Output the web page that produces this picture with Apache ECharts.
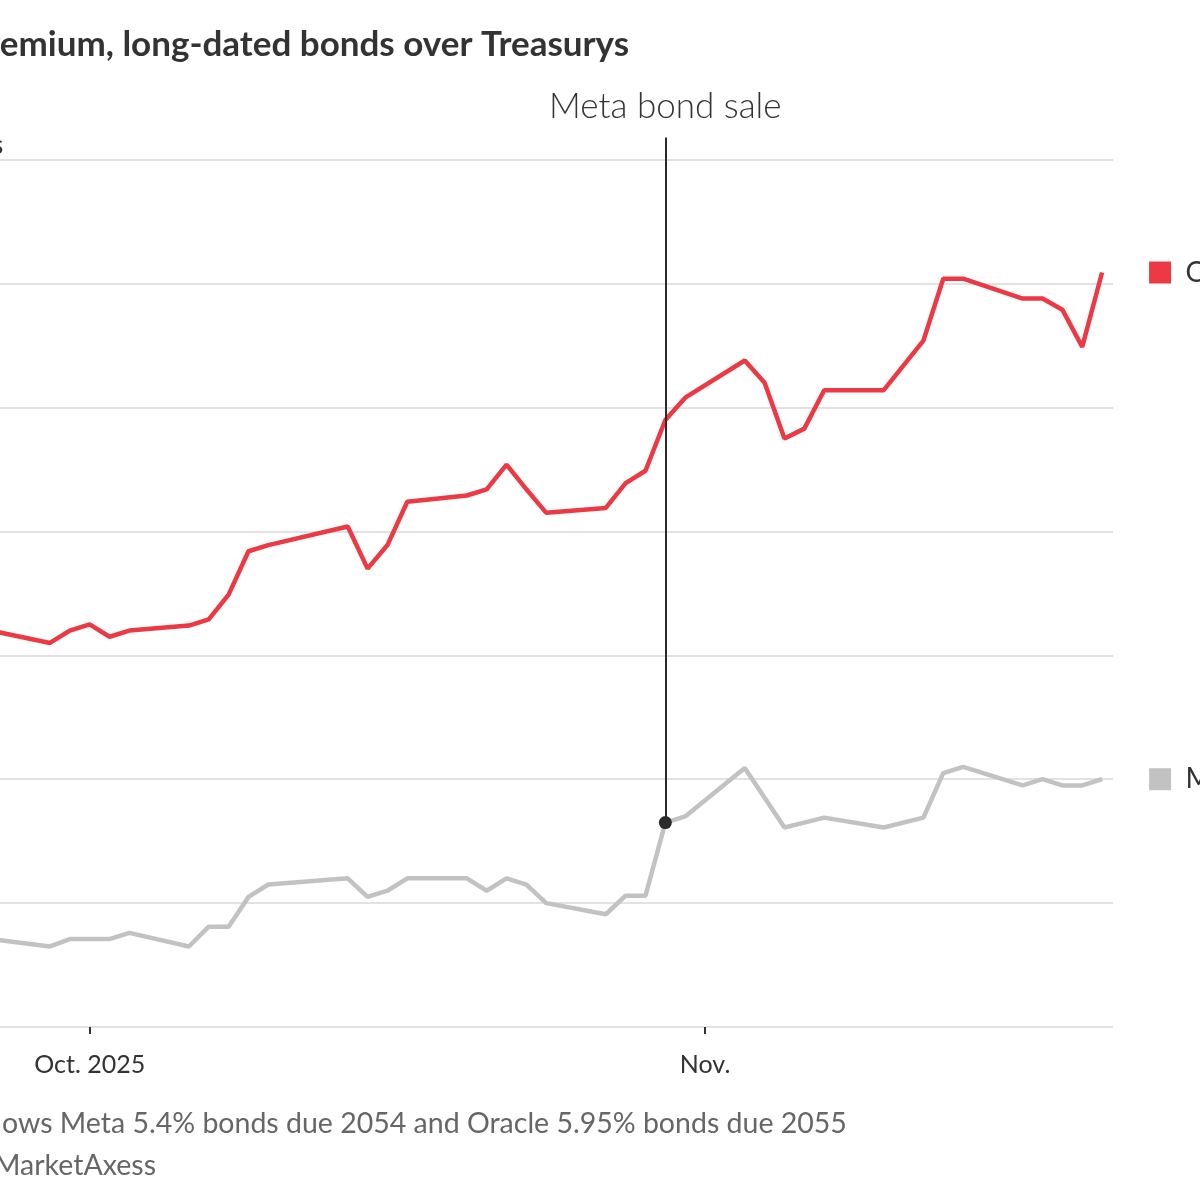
<!DOCTYPE html>
<html><head><meta charset="utf-8">
<script src="https://cdn.jsdelivr.net/npm/echarts@6.0.0/dist/echarts.min.js"></script>
<style>
html,body{margin:0;padding:0;overflow:hidden;background:#fff;width:1200px;height:1200px;}
#chart{position:absolute;left:-150px;top:0;width:1350px;height:1200px;}
</style>
</head><body><div id="chart"></div>
<script>
const dates = ['2025-09-26','2025-09-29','2025-09-30',
  '2025-10-01','2025-10-02','2025-10-03',
  '2025-10-06','2025-10-07','2025-10-08','2025-10-09','2025-10-10',
  '2025-10-14','2025-10-15','2025-10-16','2025-10-17',
  '2025-10-20','2025-10-21','2025-10-22','2025-10-23','2025-10-24',
  '2025-10-27','2025-10-28','2025-10-29','2025-10-30','2025-10-31',
  '2025-11-03','2025-11-04','2025-11-05','2025-11-06','2025-11-07',
  '2025-11-10',
  '2025-11-12','2025-11-13','2025-11-14',
  '2025-11-17','2025-11-18','2025-11-19','2025-11-20','2025-11-21'];
const oracle = [122.0,121.0,122.0,
  122.5,121.5,122.0,
  122.4,122.9,124.9,128.4,128.9,
  130.4,127.0,128.9,132.4,
  132.9,133.4,135.4,133.4,131.5,
  131.9,133.9,134.9,139.0,140.8,
  143.8,142.0,137.5,138.3,141.4,
  141.4,
  145.4,150.4,150.4,
  148.8,148.8,147.9,144.9,150.9];
const meta = [97.1,96.5,97.1,
  97.1,97.1,97.6,
  96.5,98.1,98.1,100.5,101.5,
  102.0,100.5,101.0,102.0,
  102.0,101.0,102.0,101.5,100.0,
  99.1,100.6,100.6,106.5,107.0,
  110.9,108.5,106.1,106.5,106.9,
  106.1,
  106.9,110.5,111.0,
  109.5,110.0,109.5,109.5,110.0];
const tickDates = ['2025-10-01','2025-11-01'];
const tickLabels = ['Oct. 2025','Nov.'];
const yMin = 90, yInterval = 10, yTopTick = 160;
const yUnit = 'bps';
const saleDate = '2025-10-30';
const saleLabel = 'Meta bond sale';
const titleText = 'Yield premium, long-dated bonds over Treasurys';
const noteText = 'Note: Shows Meta 5.4% bonds due 2054 and Oracle 5.95% bonds due 2055';
const sourceText = 'Source: MarketAxess';

function ts(s){ const p = s.split('-').map(Number); return new Date(p[0], p[1]-1, p[2]).getTime(); }
const DAY = 86400000;
const FONT = 'Lato, "Noto Sans", sans-serif';
const RED = '#ec3943', GRAY = '#c2c2c2';

const oracleData = dates.map((d,i)=>[ts(d), oracle[i]]);
const metaData = dates.map((d,i)=>[ts(d), meta[i]]);
const saleIdx = dates.indexOf(saleDate);
const tickVals = tickDates.map(ts);

const chart = echarts.init(document.getElementById('chart'), null, {renderer:'canvas'});
chart.setOption({
  animation: false,
  backgroundColor: '#fff',
  title: [
    {text: titleText, left: 25, top: 22, textStyle:{fontFamily:FONT, fontSize:35, fontWeight:'bold', color:'#333'}},
    {text: noteText, left: 39, top: 1104, textStyle:{fontFamily:FONT, fontSize:28.5, fontWeight:'normal', color:'#666'}},
    {text: sourceText, left: 39, top: 1146, textStyle:{fontFamily:FONT, fontSize:28.5, fontWeight:'normal', color:'#666'}}
  ],
  grid: {left: 61, right: 87, top: 135, bottom: 173, containLabel:false},
  xAxis: {
    type: 'value',
    min: ts('2025-09-22'),
    max: ts('2025-11-21') + 0.55*DAY,
    axisLine: {show:false},
    splitLine: {show:false},
    axisTick: {show:true, customValues: tickVals, length:7, lineStyle:{color:'#333', width:2}},
    axisLabel: {show:true, customValues: tickVals, margin: 25,
      formatter: function(v){ const i = tickVals.indexOf(v); return i>=0 ? tickLabels[i] : ''; },
      fontFamily: FONT, fontSize: 25, color:'#333'}
  },
  yAxis: {
    type: 'value',
    min: yMin, max: 162, interval: yInterval,
    axisLine:{show:false}, axisTick:{show:false},
    splitLine:{show:true, showMaxLine:false, lineStyle:{color:'#e2e2e2', width:2}},
    axisLabel:{show:true, inside:true, showMaxLabel:false, verticalAlign:'bottom', margin:0, padding:[0,0,1,0],
      formatter: function(v){ return v===yTopTick ? v + ' ' + yUnit : String(v); },
      fontFamily: FONT, fontSize: 26, color:'#333'}
  },
  series: [
    {
      name:'Meta', type:'line', data: metaData, showSymbol:false, symbol:'none',
      lineStyle:{color:GRAY, width:4.5}, itemStyle:{color:GRAY},
      z: 2,
      endLabel:{show:true, distance: 47, formatter:'{sq|}{t|  Meta}',
        rich:{sq:{width:22, height:22, backgroundColor:GRAY}, t:{fontFamily:FONT, fontSize:28, color:'#333'}}},
      markLine:{
        silent:true, symbol:['circle','none'], symbolSize:[13,13],
        lineStyle:{color:'#2b2b2b', width:2, type:'solid'},
        label:{show:true, position:'end', formatter: saleLabel, fontFamily:FONT, fontSize:35, fontWeight:300, color:'#333', distance:13},
        emphasis:{disabled:true},
        data:[[{coord:[ts(saleDate), meta[saleIdx]]},{coord:[ts(saleDate), 161.8]}]]
      }
    },
    {
      name:'Oracle', type:'line', data: oracleData, showSymbol:false, symbol:'none',
      lineStyle:{color:RED, width:4.5}, itemStyle:{color:RED},
      z: 3,
      endLabel:{show:true, distance: 47, formatter:'{sq|}{t|  Oracle}',
        rich:{sq:{width:22, height:22, backgroundColor:RED}, t:{fontFamily:FONT, fontSize:28, color:'#333'}}}
    }
  ]
});
</script>
</body></html>
